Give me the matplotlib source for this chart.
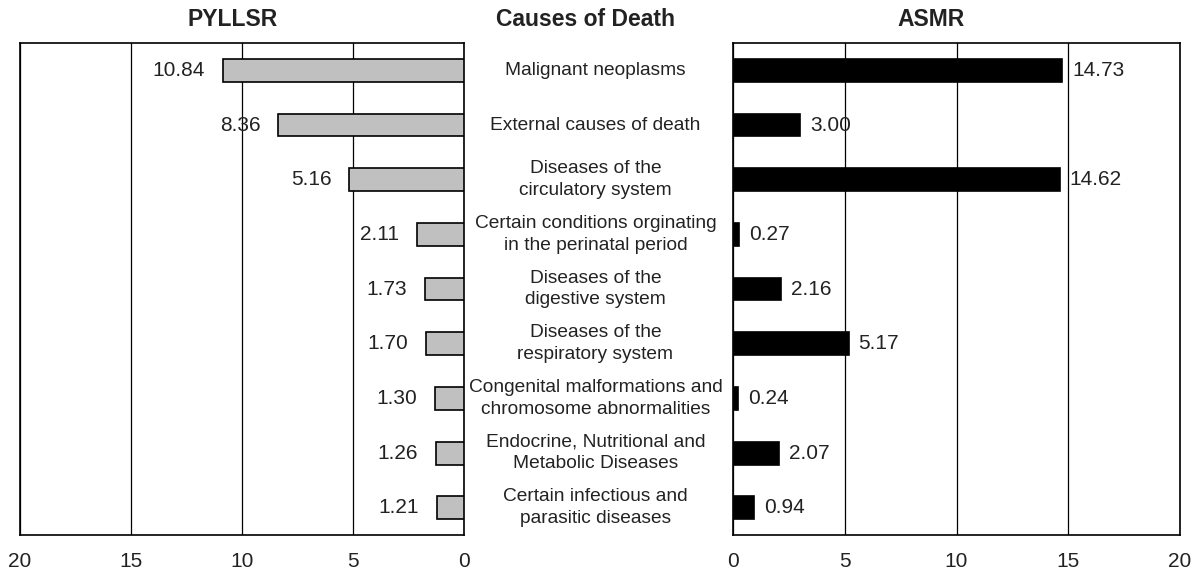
import numpy as np
import matplotlib
matplotlib.use("Agg")
import matplotlib.pyplot as plt
from matplotlib import transforms

plt.rcParams['font.family'] = ['Liberation Sans', 'DejaVu Sans']

causes = [
    "Malignant neoplasms",
    "External causes of death",
    "Diseases of the\ncirculatory system",
    "Certain conditions orginating\nin the perinatal period",
    "Diseases of the\ndigestive system",
    "Diseases of the\nrespiratory system",
    "Congenital malformations and\nchromosome abnormalities",
    "Endocrine, Nutritional and\nMetabolic Diseases",
    "Certain infectious and\nparasitic diseases",
]
pyllsr = [10.84, 8.36, 5.16, 2.11, 1.73, 1.70, 1.30, 1.26, 1.21]
asmr = [14.73, 3.00, 14.62, 0.27, 2.16, 5.17, 0.24, 2.07, 0.94]
x_ticks = [0, 5, 10, 15, 20]


def style_axis(ax, n):
    ax.set_ylim(n - 0.5, -0.5)
    ax.set_yticks([])
    ax.set_xticks(x_ticks)
    ax.tick_params(axis='x', length=0, pad=12, labelsize=15,
                   labelcolor='#222222')
    ax.grid(axis='x', color='black', linewidth=0.9)
    ax.set_axisbelow(True)
    for spine in ax.spines.values():
        spine.set_linewidth(1.2)


y = np.arange(len(causes))

fig = plt.figure(figsize=(12.03, 5.71), dpi=100)
ax_l = fig.add_axes([0.0166, 0.063, 0.369, 0.8617])
ax_r = fig.add_axes([0.6093, 0.063, 0.3716, 0.8617])

# left panel grows leftwards from zero
style_axis(ax_l, len(causes))
ax_l.set_xlim(20, 0)
ax_l.barh(y, pyllsr, height=0.42, color='#c0c0c0', edgecolor='black',
          linewidth=1.2, zorder=3)
for yi, v in zip(y, pyllsr):
    ax_l.annotate(f"{v:.2f}", xy=(v, yi), xytext=(-13, 0),
                  textcoords='offset points', ha='right', va='center',
                  fontsize=15, color='#222222')

style_axis(ax_r, len(causes))
ax_r.set_xlim(0, 20)
ax_r.barh(y, asmr, height=0.42, color='black', edgecolor='black',
          linewidth=1.2, zorder=3)
for yi, v in zip(y, asmr):
    ax_r.annotate(f"{v:.2f}", xy=(v, yi), xytext=(7, 0),
                  textcoords='offset points', ha='left', va='center',
                  fontsize=15, color='#222222')

# cause names sit in the gap between the two panels
trans = transforms.blended_transform_factory(fig.transFigure, ax_l.transData)
for yi, name in zip(y, causes):
    ax_l.text(0.495, yi, name, transform=trans, ha='center', va='center',
              fontsize=13.8, linespacing=1.38, color='#222222', clip_on=False)

fig.text(233 / 1203, 1 - 20 / 571, "PYLLSR", ha='center', va='center',
         fontsize=16.5, fontweight='bold', color='#222222')
fig.text(586 / 1203, 1 - 20 / 571, "Causes of Death", ha='center', va='center',
         fontsize=16.5, fontweight='bold', color='#222222')
fig.text(931 / 1203, 1 - 20 / 571, "ASMR", ha='center', va='center',
         fontsize=16.5, fontweight='bold', color='#222222')

fig.savefig("out.png", dpi=100)
plt.close(fig)
